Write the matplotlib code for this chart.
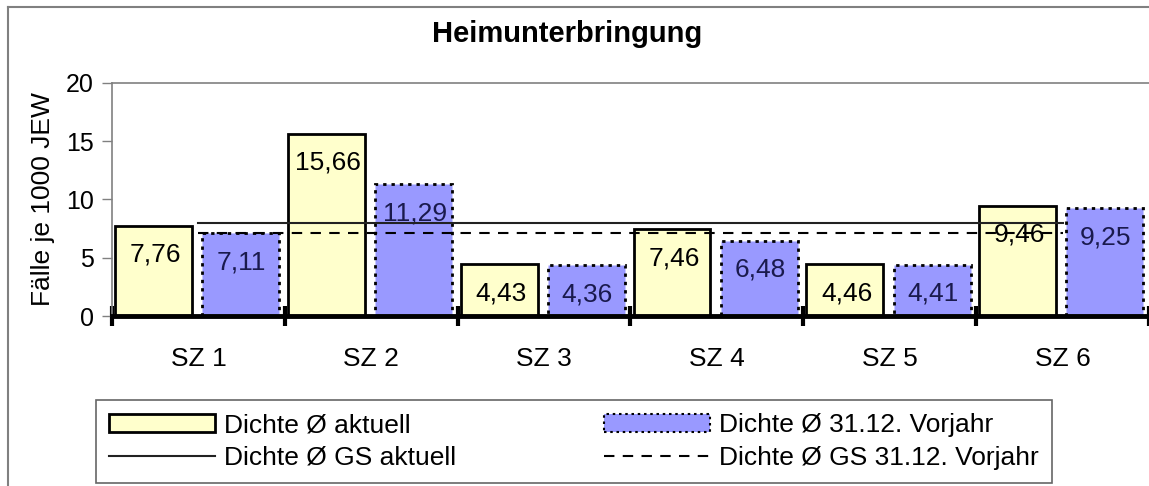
import matplotlib
matplotlib.use("Agg")
import matplotlib.pyplot as plt
from matplotlib.patches import Patch
from matplotlib.lines import Line2D

# data
categories = ["SZ 1", "SZ 2", "SZ 3", "SZ 4", "SZ 5", "SZ 6"]
dichte_aktuell = [7.76, 15.66, 4.43, 7.46, 4.46, 9.46]
dichte_vorjahr = [7.11, 11.29, 4.36, 6.48, 4.41, 9.25]
gs_aktuell = [8.0, 8.0, 8.0, 8.0, 8.0, 8.0]
gs_vorjahr = [7.1, 7.1, 7.1, 7.1, 7.1, 7.1]
labels_aktuell = ["7,76", "15,66", "4,43", "7,46", "4,46", "9,46"]
labels_vorjahr = ["7,11", "11,29", "4,36", "6,48", "4,41", "9,25"]
y_ticks = [0, 5, 10, 15, 20]

plt.rcParams["font.family"] = ["Liberation Sans", "DejaVu Sans"]

YELLOW = "#FFFFCC"
BLUE = "#9999FF"
W, H = 1149, 486

fig = plt.figure(figsize=(W / 100, H / 100), dpi=100)
ax = fig.add_axes([112 / W, 170 / H, 1 - 112 / W, 233 / H])

x = list(range(len(categories)))
w = 0.445
xa = [i - 0.26 for i in x]
xv = [i + 0.245 for i in x]

ax.bar(xa, dichte_aktuell, width=w, color=YELLOW, edgecolor="black",
       linewidth=2, zorder=2)
ax.bar(xv, dichte_vorjahr, width=w, color=BLUE, edgecolor="black",
       linewidth=2, linestyle=(0, (1.2, 1.8)), zorder=2)

# value labels inside the bar tops
for xi, v, t in zip(xa, dichte_aktuell, labels_aktuell):
    ax.annotate(t, (xi, v), xytext=(2, -17), textcoords="offset pixels",
                ha="center", va="top", fontsize=19, zorder=3)
for xi, v, t in zip(xv, dichte_vorjahr, labels_vorjahr):
    ax.annotate(t, (xi, v), xytext=(1, -17), textcoords="offset pixels",
                ha="center", va="top", fontsize=19, color="#1a1a4d", zorder=3)

ax.plot(x, gs_aktuell, color="#222222", linewidth=1.5, zorder=4)
ax.plot(x, gs_vorjahr, color="black", linewidth=1.5, dashes=(5, 4), zorder=4)

ax.set_xlim(-0.5, (W - 112) / 174.2 - 0.5)
ax.set_ylim(0, 20)
ax.set_yticks(y_ticks)
ax.set_yticklabels([str(t) for t in y_ticks], fontsize=18)
ax.set_xticks(x)
ax.set_xticklabels(categories, fontsize=19)
ax.set_xticks([i - 0.5 for i in range(len(categories) + 1)], minor=True)
ax.tick_params(axis="x", which="major", length=0, pad=22)
ax.tick_params(axis="x", which="minor", direction="inout", length=14,
               width=3, color="black")
ax.tick_params(axis="y", direction="out", length=7, width=1,
               color="#808080", pad=6)

ax.spines["right"].set_visible(False)
ax.spines["left"].set_color("#808080")
ax.spines["left"].set_linewidth(1.2)
ax.spines["top"].set_color("#808080")
ax.spines["top"].set_linewidth(1.2)
ax.spines["bottom"].set_linewidth(3.5)
ax.spines["bottom"].set_zorder(5)

ax.set_ylabel("Fälle je 1000 JEW", fontsize=19, labelpad=8)

fig.text(567 / W, 1 - 42 / H, "Heimunterbringung", ha="center",
         va="baseline", fontsize=21, fontweight="bold")

# outer frame (right and bottom edges are cut off)
fig.add_artist(Line2D([8 / W, 8 / W], [0, 1 - 7 / H],
                      color="#808080", linewidth=1.5))
fig.add_artist(Line2D([8 / W, 1], [1 - 7 / H, 1 - 7 / H],
                      color="#808080", linewidth=1.5))

handles = [
    Patch(facecolor=YELLOW, edgecolor="black", linewidth=2),
    Line2D([], [], color="#222222", linewidth=1.5),
    Patch(facecolor=BLUE, edgecolor="black", linewidth=1.5,
          linestyle=(0, (1.2, 1.8))),
    Line2D([], [], color="black", linewidth=1.5, dashes=(5, 4)),
]
names = ["Dichte Ø aktuell", "Dichte Ø GS aktuell",
         "Dichte Ø 31.12. Vorjahr", "Dichte Ø GS 31.12. Vorjahr"]
leg = fig.legend(handles, names, ncol=2, mode="expand", loc="upper left",
                 bbox_to_anchor=(96 / W, 0, 956 / W, 1 - 400 / H),
                 borderaxespad=0, frameon=True, fancybox=False,
                 prop={"size": 19}, handlelength=4.0, handleheight=0.65,
                 handletextpad=0.35, labelspacing=0.33, borderpad=0.5)
leg.get_frame().set_edgecolor("#404040")
leg.get_frame().set_linewidth(1.2)

fig.savefig("out.png", dpi=100)
